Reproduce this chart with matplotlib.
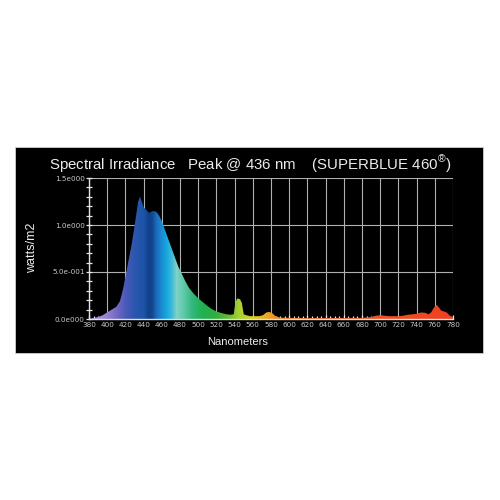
import numpy as np
import matplotlib
matplotlib.use("Agg")
import matplotlib.pyplot as plt
from matplotlib.patches import Rectangle, Polygon
from matplotlib.colors import to_rgb

# ---- data ----
wavelength = [380, 385, 390, 395, 400, 405, 410, 414, 417, 420, 423, 427, 431, 434, 436,
              438, 440, 443, 446, 450, 454, 457, 460, 463, 466, 469, 472, 475, 478, 482,
              486, 490, 495, 500, 505, 510, 515, 520, 525, 530, 535, 539, 541, 543, 546,
              548, 550, 553, 557, 562, 567, 571, 575, 578, 581, 585, 590, 600, 620, 640,
              660, 680, 690, 695, 700, 705, 710, 715, 720, 725, 730, 735, 740, 745, 750,
              753, 756, 759, 762, 764, 767, 770, 773, 776, 780]
irradiance = [0.0, 0.01, 0.02, 0.04, 0.07, 0.10, 0.13, 0.19, 0.30, 0.44, 0.60, 0.80, 1.05, 1.25, 1.30,
              1.25, 1.19, 1.16, 1.13, 1.15, 1.14, 1.10, 1.04, 0.96, 0.88, 0.80, 0.72, 0.64, 0.56, 0.48,
              0.40, 0.33, 0.27, 0.22, 0.18, 0.14, 0.105, 0.08, 0.065, 0.052, 0.045, 0.05, 0.18, 0.22, 0.21,
              0.17, 0.05, 0.04, 0.03, 0.03, 0.03, 0.04, 0.07, 0.075, 0.065, 0.03, 0.015, 0.012, 0.01, 0.01,
              0.01, 0.012, 0.02, 0.035, 0.04, 0.035, 0.03, 0.03, 0.03, 0.035, 0.045, 0.05, 0.055, 0.07, 0.065,
              0.05, 0.07, 0.12, 0.15, 0.13, 0.09, 0.08, 0.07, 0.04, 0.02]
xticks = list(range(380, 781, 20))
yticks = [0.0, 0.5, 1.0, 1.5]
ytick_labels = ["0.0e000", "5.0e-001", "1.0e000", "1.5e000"]

# spectral colour stops (style)
stop_wl = [380, 400, 410, 420, 430, 440, 445, 449, 453, 459, 465, 471, 476, 484, 494, 505,
           520, 535, 545, 560, 575, 590, 620, 700, 780]
stop_col = ["#b8a0e0", "#9480d0", "#7468c4", "#4a5ab8", "#2c56ae", "#1c54a6", "#10428a", "#13448e",
            "#1a66b6", "#1a88d0", "#16a8e0", "#40bad8", "#80d2c8", "#5ec8aa", "#30b878", "#20b050",
            "#30b040", "#70c030", "#a8d030", "#d8d020", "#f0a828", "#f08020", "#f06020", "#f05020",
            "#f04020"]

fig = plt.figure(figsize=(5, 5), dpi=100)
fig.patch.set_facecolor("white")
fig.patches.append(Rectangle((0.03, 0.294), 0.936, 0.412, transform=fig.transFigure,
                             facecolor="black", edgecolor="#cfcfcf", lw=0.6, zorder=-5))

ax = fig.add_axes([0.178, 0.362, 0.728, 0.282])
ax.set_zorder(2)
ax.set_facecolor("black")
ax.set_xlim(380, 780)
ax.set_ylim(0, 1.5)

# gradient image clipped by spectrum polygon
grid_wl = np.arange(380, 781)
rgb = np.array([to_rgb(c) for c in stop_col])
img = np.stack([np.interp(grid_wl, stop_wl, rgb[:, k]) for k in range(3)], axis=-1)[None, :, :]
im = ax.imshow(img, extent=[380, 780, 0, 1.5], aspect="auto", origin="lower", zorder=2,
               interpolation="bilinear")
verts = np.column_stack([[wavelength[0]] + wavelength + [wavelength[-1]],
                         [0] + irradiance + [0]])
poly = Polygon(verts, closed=True, facecolor="none", edgecolor="none", transform=ax.transData)
ax.add_patch(poly)
im.set_clip_path(poly)

# grid
for x in xticks:
    ax.axvline(x, color="#b0b0b0", lw=0.8, zorder=1)
for y in yticks:
    ax.axhline(y, color="#b0b0b0", lw=0.8, zorder=1)

for s in ["top", "right"]:
    ax.spines[s].set_visible(False)
for s in ["left", "bottom"]:
    ax.spines[s].set_color("#e0e0e0")
    ax.spines[s].set_linewidth(1.0)
    ax.spines[s].set_zorder(3)

ax.set_xticks(xticks)
ax.set_xticklabels([str(x) for x in xticks])
ax.set_xticks(np.arange(380, 781, 5), minor=True)
ax.set_yticks(yticks)
ax.set_yticklabels(ytick_labels)
ax.set_yticks(np.arange(0, 1.51, 0.1), minor=True)
ax.tick_params(axis="x", which="both", direction="in", colors="#e8e8e8", labelsize=5.2,
               length=3, width=0.9, pad=2)
ax.tick_params(axis="x", which="minor", length=2)
ax.tick_params(axis="y", which="both", direction="inout", colors="#e8e8e8", labelsize=5.2,
               length=4, width=0.9, pad=1)
for lab in ax.get_xticklabels() + ax.get_yticklabels():
    lab.set_color("#c8c8c8")

fig.text(0.5, 0.672,
         "Spectral Irradiance   Peak @ 436 nm    (SUPERBLUE 460$^{\\mathregular{®}}$)",
         ha="center", va="center", color="#ececec", fontsize=10.8, family="Liberation Sans")
fig.text(0.064, 0.505, "watts/m2", rotation=90, ha="center", va="center", color="#ececec",
         fontsize=9, family="Liberation Sans")
fig.text(0.476, 0.316, "Nanometers", ha="center", va="center", color="#ececec",
         fontsize=8, family="Liberation Sans")

fig.savefig("out.png", dpi=100, facecolor="white")
